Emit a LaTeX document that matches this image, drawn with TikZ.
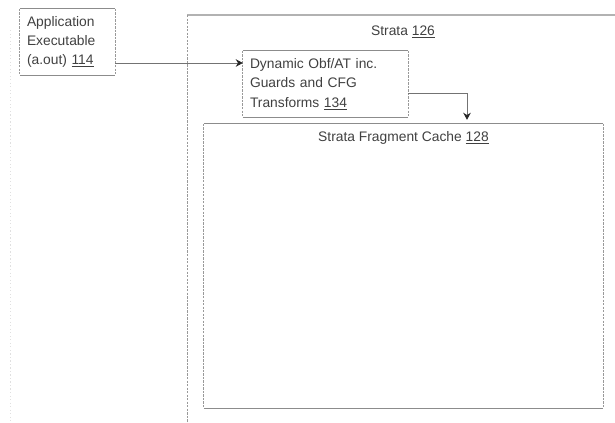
\documentclass[tikz,border=0pt]{standalone}
\usepackage{fontspec}
\setmainfont{Liberation Sans}
\usepackage{tikz}
\usetikzlibrary{arrows.meta}

\begin{document}
\begin{tikzpicture}[
    y=-1cm,
    txt/.style={text=black!75, font=\fontsize{11.8}{16.5}\selectfont},
    box/.style={txt, align=left, inner xsep=0.21cm, minimum height=1.98cm},
    hline/.style={draw=black!45, line width=0.9pt},
    vline/.style={draw=black!40, line width=0.8pt, dash pattern=on 2pt off 1pt},
    arrow/.style={-{Stealth[length=6pt,width=6.5pt,color=black!85]}, draw=black!55, line width=0.7pt},
  ]
    \useasboundingbox (0,0) rectangle (18.45,12.66);
    \clip (0,0) rectangle (18.45,12.66);

    % faint outer edge at the far left
    \draw[draw=black!12, dash pattern=on 1pt off 2pt] (0.3,0.9) -- (0.3,12.66);

    % outer Strata region, cut off by the page
    \node[minimum width=13.5cm, minimum height=13cm, anchor=north west] (strata) at (5.61,0.45) {};
    \draw[hline, draw=black!30] (strata.north west) -- (strata.north east);
    \draw[vline] (strata.north west) -- (strata.south west);
    \node[txt] (stratalbl) at (12.09,0.96) {Strata \underline{126}};

    \node[box, text width=2.43cm] (app) at (2.025,1.26) {Application\\Executable\\(a.out) \underline{114}};
    \node[box, text width=4.53cm] (dyn) at (9.765,2.52) {Dynamic Obf/AT inc.\\Guards and CFG\\Transforms \underline{134}};
    \node[minimum width=11.97cm, minimum height=8.52cm] (cache) at (12.105,7.98) {};
    \node[txt, anchor=north] (cachelbl) at ([yshift=-0.1cm]cache.north) {Strata Fragment Cache \underline{128}};

    \foreach \n in {app,dyn,cache} {
      \draw[hline] (\n.north west) -- (\n.north east);
      \draw[hline] (\n.south west) -- (\n.south east);
      \draw[vline] (\n.north west) -- (\n.south west);
      \draw[vline] (\n.north east) -- (\n.south east);
    }

    \draw[arrow] (app.east |- 0,1.89) -- (dyn.west |- 0,1.89);
    \draw[arrow] (dyn.east |- 0,2.79) -| ([yshift=0.12cm]cache.north -| 14.01,0);
  \end{tikzpicture}
\end{document}
